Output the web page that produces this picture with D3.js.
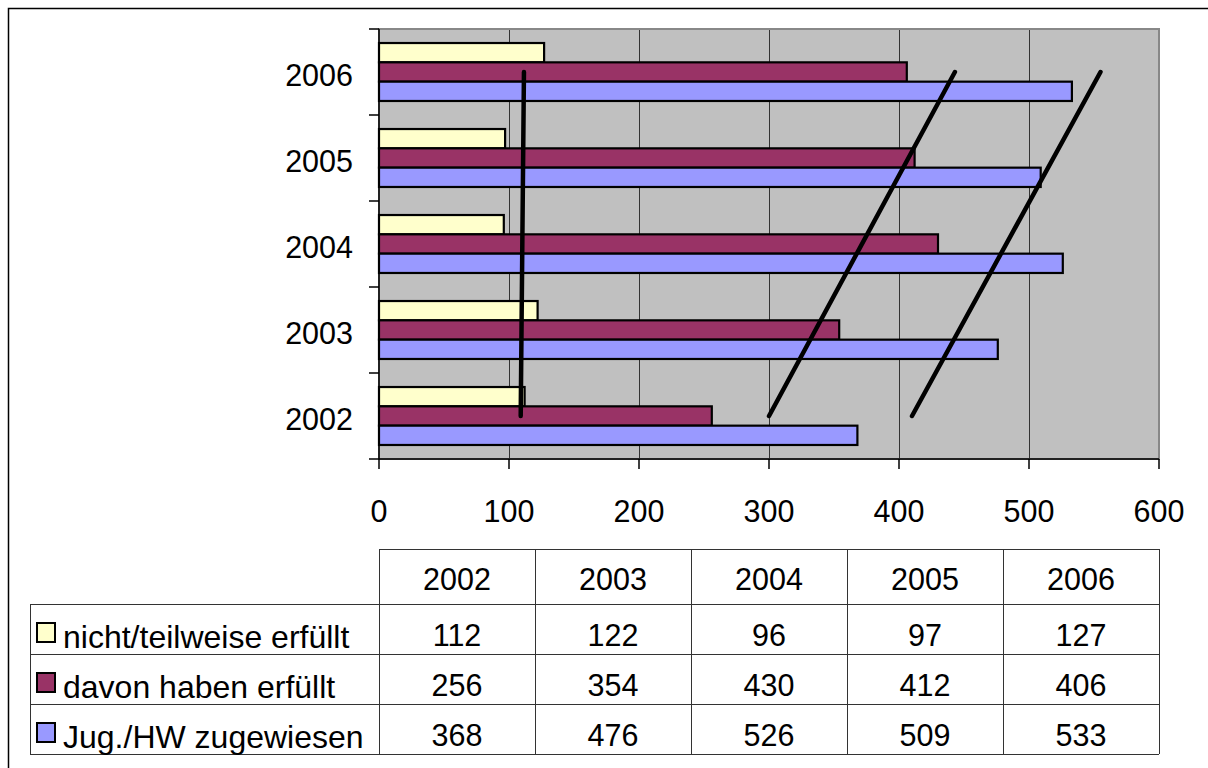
<!DOCTYPE html>
<html>
<head>
<meta charset="utf-8">
<script src="https://cdn.jsdelivr.net/npm/d3@7"></script>
<style>
  html, body { margin: 0; padding: 0; background: #fff; }
  svg { display: block; font-family: "Liberation Sans", Arial, sans-serif; }
</style>
</head>
<body>
<svg id="chart" width="1208" height="768"></svg>
<script>
// ---- data ----
const years = ["2002", "2003", "2004", "2005", "2006"];
const seriesNames = ["nicht/teilweise erfüllt", "davon haben erfüllt", "Jug./HW zugewiesen"];
const nichtErfuellt = [112, 122, 96, 97, 127];
const davonErfuellt = [256, 354, 430, 412, 406];
const zugewiesen = [368, 476, 526, 509, 533];
const xTicks = [0, 100, 200, 300, 400, 500, 600];
const seriesColors = ["#FFFFCC", "#993366", "#9999FF"];
// hand-drawn annotation strokes: [value at 2002, value at 2006]
const strokeLines = [[109, 111.5], [300, 443], [410, 555]];

const seriesValues = [nichtErfuellt, davonErfuellt, zugewiesen];

const svg = d3.select("#chart");

// outer frame
svg.append("rect").attr("x", 8.5).attr("y", 8.5).attr("width", 1220).attr("height", 780)
  .attr("fill", "none").attr("stroke", "#000").attr("stroke-width", 1.5);

const plot = { left: 379, right: 1159, top: 29, bottom: 459 };

const x = d3.scaleLinear().domain([0, 600]).range([plot.left, plot.right]);
const y = d3.scaleBand().domain(years.slice().reverse()).range([plot.top, plot.bottom]).padding(0);
const ySub = d3.scaleBand().domain(seriesNames)
  .range([y.bandwidth() * 0.163, y.bandwidth() * 0.837]).padding(0);

// plot background
svg.append("rect").attr("x", plot.left).attr("y", plot.top)
  .attr("width", plot.right - plot.left).attr("height", plot.bottom - plot.top)
  .attr("fill", "#C0C0C0");

// grid lines
svg.append("g").selectAll("line").data(xTicks.filter(t => t > 0 && t < 600)).join("line")
  .attr("x1", d => x(d) + 0.5).attr("x2", d => x(d) + 0.5)
  .attr("y1", plot.top).attr("y2", plot.bottom)
  .attr("stroke", "#333").attr("stroke-width", 1);

// plot border (gray)
svg.append("rect").attr("x", plot.left).attr("y", plot.top)
  .attr("width", plot.right - plot.left).attr("height", plot.bottom - plot.top)
  .attr("fill", "none").attr("stroke", "#888").attr("stroke-width", 2);

// bars
const groups = svg.append("g").selectAll("g").data(years).join("g")
  .attr("transform", d => `translate(0,${y(d)})`);
groups.selectAll("rect").data((yr, i) => seriesNames.map((s, k) => ({ s, k, v: seriesValues[k][i] })))
  .join("rect")
  .attr("x", x(0))
  .attr("y", d => ySub(d.s))
  .attr("width", d => x(d.v) - x(0))
  .attr("height", ySub.bandwidth())
  .attr("fill", d => seriesColors[d.k])
  .attr("stroke", "#000").attr("stroke-width", 2.2);

// axes
const yAxis = svg.append("g");
yAxis.append("line").attr("x1", plot.left).attr("x2", plot.left)
  .attr("y1", plot.top).attr("y2", plot.bottom).attr("stroke", "#000").attr("stroke-width", 1.5);
const catEdges = years.map(d => y(d)).concat([plot.bottom]);
yAxis.selectAll("line.tick").data(catEdges).join("line").attr("class", "tick")
  .attr("x1", plot.left - 10).attr("x2", plot.left)
  .attr("y1", d => d).attr("y2", d => d).attr("stroke", "#000").attr("stroke-width", 1.5);
yAxis.selectAll("text").data(years).join("text")
  .attr("x", 353).attr("y", d => y(d) + y.bandwidth() / 2 + 14)
  .attr("text-anchor", "end").attr("font-size", 30.5).attr("fill", "#000")
  .text(d => d);

const xAxis = svg.append("g");
xAxis.append("line").attr("x1", plot.left).attr("x2", plot.right)
  .attr("y1", plot.bottom).attr("y2", plot.bottom).attr("stroke", "#000").attr("stroke-width", 1.5);
xAxis.selectAll("line.tick").data(xTicks).join("line").attr("class", "tick")
  .attr("x1", d => x(d)).attr("x2", d => x(d))
  .attr("y1", plot.bottom).attr("y2", plot.bottom + 10).attr("stroke", "#000").attr("stroke-width", 1.5);
xAxis.selectAll("text").data(xTicks).join("text")
  .attr("x", d => x(d)).attr("y", 521.5)
  .attr("text-anchor", "middle").attr("font-size", 30.5).attr("fill", "#000")
  .text(d => d);

// hand-drawn strokes
const yMid = yr => y(yr) + y.bandwidth() / 2;
svg.append("g").selectAll("line").data(strokeLines).join("line")
  .attr("x1", d => x(d[0])).attr("y1", yMid("2002"))
  .attr("x2", d => x(d[1])).attr("y2", yMid("2006"))
  .attr("stroke", "#000").attr("stroke-width", 4.5).attr("stroke-linecap", "round");

// data table
const table = svg.append("g");
const colX = d3.scaleBand().domain(years).range([plot.left, plot.right]).padding(0);
const headerTop = 549, rowTop = 604, rowH = 50, legendLeft = 30;
const rowBottom = rowTop + rowH * seriesNames.length;
const lineColor = "#333";

// horizontal lines
table.append("line").attr("x1", plot.left).attr("x2", plot.right)
  .attr("y1", headerTop + 0.5).attr("y2", headerTop + 0.5).attr("stroke", lineColor);
d3.range(seriesNames.length + 1).forEach(i => {
  table.append("line").attr("x1", legendLeft).attr("x2", plot.right)
    .attr("y1", rowTop + i * rowH + 0.5).attr("y2", rowTop + i * rowH + 0.5).attr("stroke", lineColor);
});
// vertical lines
table.append("line").attr("x1", legendLeft + 0.5).attr("x2", legendLeft + 0.5)
  .attr("y1", rowTop).attr("y2", rowBottom).attr("stroke", lineColor);
years.map(d => colX(d)).concat([plot.right]).forEach(xx => {
  table.append("line").attr("x1", xx + 0.5).attr("x2", xx + 0.5)
    .attr("y1", headerTop).attr("y2", rowBottom).attr("stroke", lineColor);
});
// header
table.selectAll("text.hdr").data(years).join("text").attr("class", "hdr")
  .attr("x", d => colX(d) + colX.bandwidth() / 2).attr("y", rowTop - 14)
  .attr("text-anchor", "middle").attr("font-size", 30.5).text(d => d);
// rows
seriesNames.forEach((s, k) => {
  const top = rowTop + k * rowH;
  table.append("rect").attr("x", 37).attr("y", top + rowH - 31)
    .attr("width", 18).attr("height", 19)
    .attr("fill", seriesColors[k]).attr("stroke", "#000").attr("stroke-width", 2);
  table.append("text").attr("x", 63).attr("y", top + rowH - 6)
    .attr("font-size", 32).text(s);
  table.selectAll(null).data(years).join("text")
    .attr("x", d => colX(d) + colX.bandwidth() / 2).attr("y", top + rowH - 8.5)
    .attr("text-anchor", "middle").attr("font-size", 30.5)
    .text((d, i) => seriesValues[k][i]);
});
</script>
</body>
</html>
